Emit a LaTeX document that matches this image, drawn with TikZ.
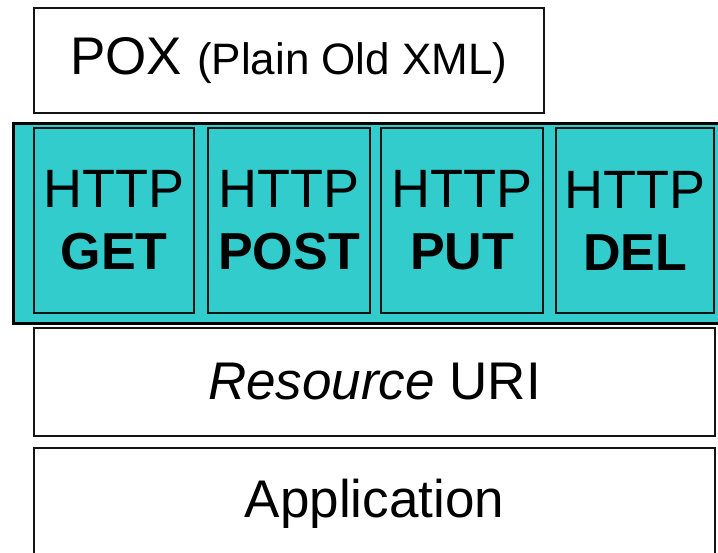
\documentclass[tikz,border=0pt]{standalone}
\usepackage{fontspec}
\setmainfont{Liberation Sans}
\definecolor{teal}{RGB}{51,204,204}
\definecolor{edge}{RGB}{20,20,20}
\begin{document}
\begin{tikzpicture}[x=1pt,y=-1pt,
  whitebox/.style={draw=edge,line width=1.3pt,fill=white,inner sep=0pt,anchor=center,
    font=\fontsize{53}{60}\selectfont},
  methbox/.style={draw=edge,line width=1.3pt,fill=teal,inner sep=0pt,anchor=center,
    minimum height=185pt,align=center,font=\fontsize{54}{64}\selectfont},
  bandbox/.style={draw=black,line width=3pt,fill=teal,inner sep=0pt,anchor=center}]
\useasboundingbox (0,0) rectangle (718,552);
\clip (0,0) rectangle (718,552);
\fill[white] (0,0) rectangle (718,552);
\node[whitebox,minimum width=510pt,minimum height=105pt] (pox) at (289,60.5)
  {POX {\fontsize{44}{50}\selectfont (Plain Old XML)}};
\node[bandbox,minimum width=717pt,minimum height=200pt] (band) at (371.5,223) {};
\node[methbox,minimum width=160pt] (get) at (114,220.5) {HTTP\\[-2pt]{\fontsize{52}{60}\selectfont\bfseries GET}};
\node[methbox,minimum width=162pt] (post) at (289,220.5) {HTTP\\[-2pt]{\fontsize{52}{60}\selectfont\bfseries POST}};
\node[methbox,minimum width=162pt] (put) at (462,220.5) {HTTP\\[-2pt]{\fontsize{52}{60}\selectfont\bfseries PUT}};
\node[methbox,minimum width=158pt] (del) at (635,220.5) {HTTP\\[-2pt]{\fontsize{52}{60}\selectfont\bfseries DEL}};
\node[whitebox,minimum width=681pt,minimum height=108pt] (uri) at (374.5,382) {\textit{Resource} URI};
\node[whitebox,minimum width=681pt,minimum height=112pt] (app) at (374.5,504) {Application};
\end{tikzpicture}
\end{document}
